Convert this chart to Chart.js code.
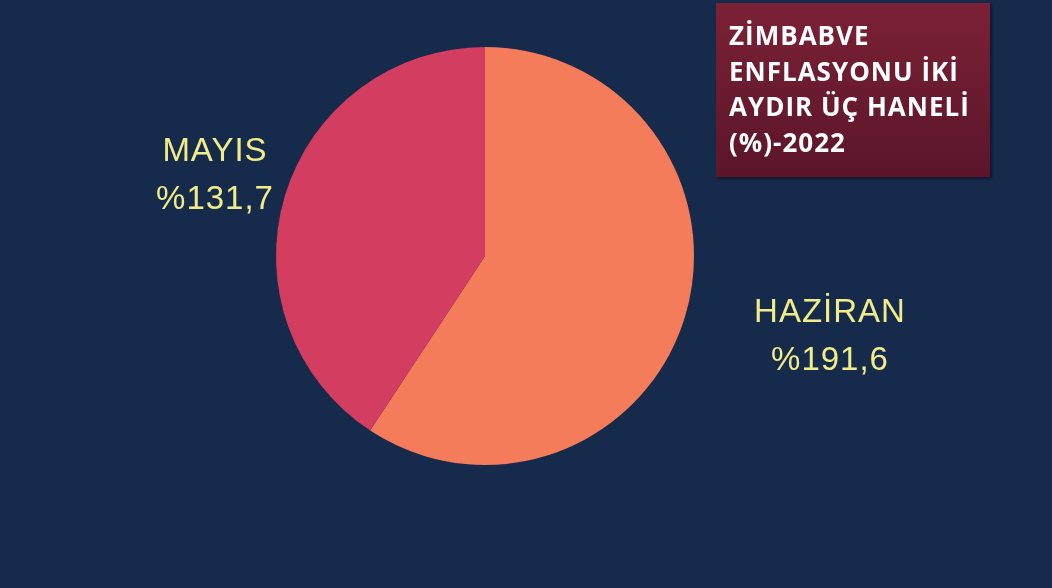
<!DOCTYPE html>
<html>
<head>
<meta charset="utf-8">
<script src="https://cdn.jsdelivr.net/npm/chart.js@4"></script>
<style>
    html, body { margin: 0; padding: 0; background: #162a4c; }
    #wrap { position: relative; width: 1052px; height: 588px; overflow: hidden; }
    #title-box {
        position: absolute; left: 716px; top: 3px; width: 274px; height: 174px;
        background: linear-gradient(#7b2137, #5b1529);
        box-shadow: 2px 2px 3px rgba(0,0,0,0.45);
        color: #ffffff; font-family: "Open Sans", sans-serif; font-weight: 700;
        font-size: 26px; line-height: 35.5px; box-sizing: border-box;
        padding: 15px 0 0 13px; letter-spacing: 1px; white-space: nowrap;
    }
</style>
</head>
<body>
<div id="wrap">
    <canvas id="pieChart" width="1052" height="588"></canvas>
    <div id="title-box">ZİMBABVE<br>ENFLASYONU İKİ<br>AYDIR ÜÇ HANELİ<br>(%)-2022</div>
</div>
<script>
var months = ['HAZİRAN', 'MAYIS'];
var inflation = [191.6, 131.7];
var valueLabels = ['%191,6', '%131,7'];
var sliceColors = ['#f47c5a', '#d33d5f'];

// label spots, relative to the pie centre
var labelSpots = [[345, 57], [-270, -104]];

var sliceLabels = {
    id: 'sliceLabels',
    afterDraw: function (chart) {
        var ctx = chart.ctx;
        var arc = chart.getDatasetMeta(0).data[0];
        ctx.save();
        ctx.font = '33px "Liberation Sans", Arial, sans-serif';
        ctx.letterSpacing = '1px';
        ctx.fillStyle = '#f1ec8a';
        ctx.textAlign = 'center';
        ctx.textBaseline = 'middle';
        months.forEach(function (m, i) {
            var x = arc.x + labelSpots[i][0];
            var y = arc.y + labelSpots[i][1];
            ctx.fillText(m, x, y);
            ctx.fillText(valueLabels[i], x, y + 48);
        });
        ctx.restore();
    }
};

var ctx = document.getElementById('pieChart').getContext('2d');
window.myChart = new Chart(ctx, {
    type: 'pie',
    data: {
        labels: months,
        datasets: [{
            data: inflation,
            backgroundColor: sliceColors,
            borderWidth: 0
        }]
    },
    options: {
        responsive: false,
        animation: false,
        layout: { padding: { top: 47, bottom: 123, left: 0, right: 82 } },
        plugins: {
            legend: { display: false },
            tooltip: { enabled: false }
        }
    },
    plugins: [sliceLabels]
});
</script>
</body>
</html>
